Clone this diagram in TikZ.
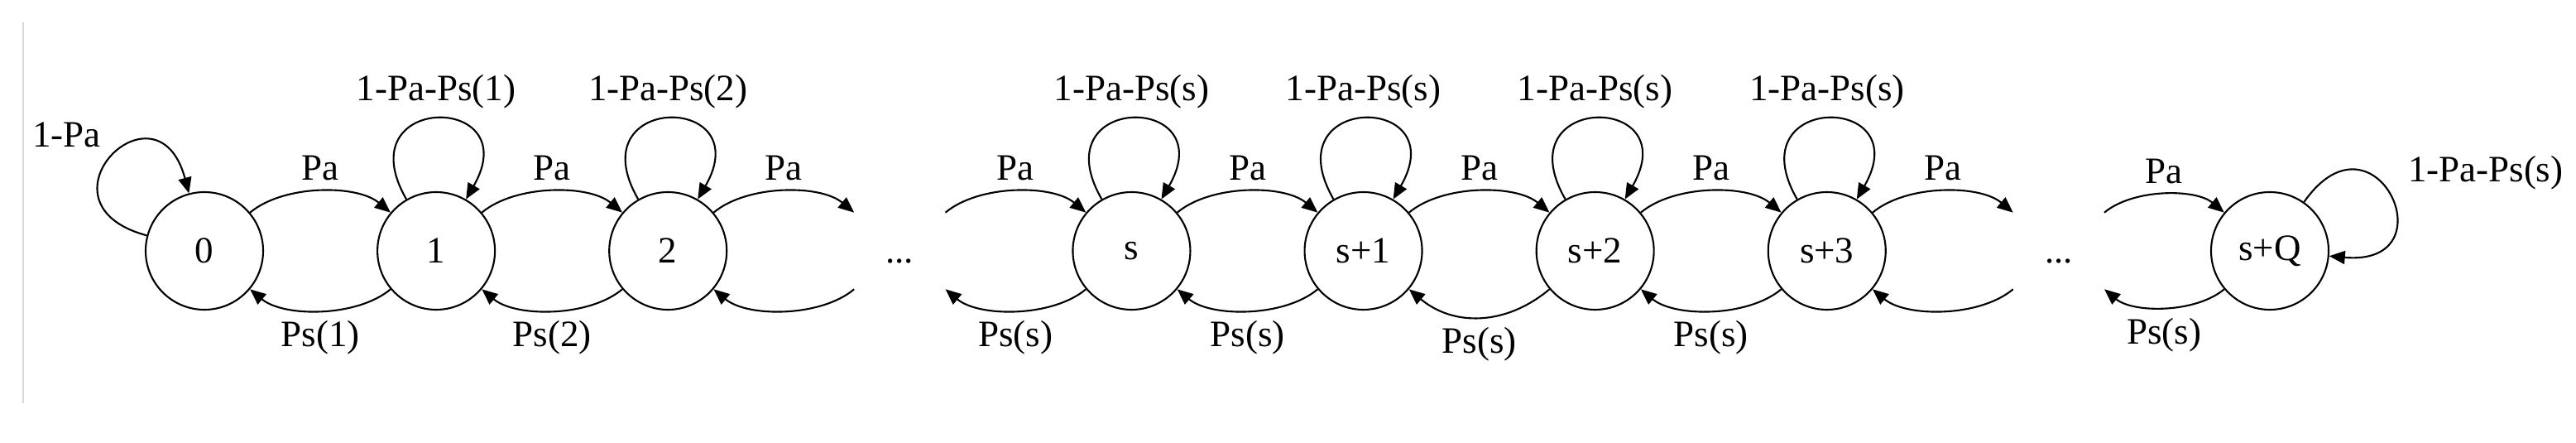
\documentclass[tikz,border=0pt]{standalone}
\usepackage{fontspec}
\setmainfont{Liberation Serif}
\usetikzlibrary{positioning,arrows.meta}

\begin{document}
\begin{tikzpicture}[line width=0.6pt,
                    >={Triangle[length=1.9mm,width=1.6mm]},
                    font=\fontsize{12.8}{15}\selectfont,
                    node distance=13.6mm,
                    state/.style={draw,circle,minimum size=14.2mm,inner sep=0pt},
                    ghost/.style={circle,minimum size=14.2mm,inner sep=0pt},
                    hop/.style={bend left=40,looseness=0.8},
                    selfloop/.style={looseness=1,min distance=14.9mm}]
  \useasboundingbox (-2.47,-2.31) rectangle (28.66,3.03);
  \draw[black!15,line width=0.4pt] (-2.19,2.76) -- (-2.19,-1.84);

  \node[state] (q0) {0};
  \node[state,right=of q0] (q1) {1};
  \node[state,right=of q1] (q2) {2};
  \node[ghost,right=of q2] (dots1) {\vphantom{0}...};
  \node[state,right=of dots1] (qs) {s};
  \node[state,right=of qs] (qs1) {s+1};
  \node[state,right=of qs1] (qs2) {s+2};
  \node[state,right=of qs2] (qs3) {s+3};
  \node[ghost,right=of qs3] (dots2) {\vphantom{0}...};
  \node[state,right=11.1mm of dots2] (qsQ) {s+Q};

  % arrivals
  \draw[->] (q0) to[hop] node[above] {Pa} (q1);
  \draw[->] (q1) to[hop] node[above] {Pa} (q2);
  \draw[->] (q2) to[hop] node[above] {Pa} (dots1);
  \draw[->] (dots1) to[hop] node[above] {Pa} (qs);
  \draw[->] (qs) to[hop] node[above] {Pa} (qs1);
  \draw[->] (qs1) to[hop] node[above] {Pa} (qs2);
  \draw[->] (qs2) to[hop] node[above] {Pa} (qs3);
  \draw[->] (qs3) to[hop] node[above] {Pa} (dots2);
  \draw[->] (dots2) to[hop] node[above] {Pa} (qsQ);

  % services
  \draw[->] (q1) to[hop] node[below] {Ps(1)} (q0);
  \draw[->] (q2) to[hop] node[below] {Ps(2)} (q1);
  \draw[->] (dots1) to[hop] (q2);
  \draw[->] (qs) to[hop] node[below] {Ps(s)} (dots1);
  \draw[->] (qs1) to[hop] node[below] {Ps(s)} (qs);
  \draw[->] (qs2) to[hop,looseness=1.05] node[below] {Ps(s)} (qs1);
  \draw[->] (qs3) to[hop] node[below] {Ps(s)} (qs2);
  \draw[->] (dots2) to[hop] (qs3);
  \draw[->] (qsQ) to[hop] node[below] {Ps(s)} (dots2);

  % stay
  \draw[->] (q0) to[selfloop,out=165,in=105] node[above left] {1-Pa} (q0);
  \draw[->] (q1) to[selfloop,out=120,in=60] node[above] {1-Pa-Ps(1)} (q1);
  \draw[->] (q2) to[selfloop,out=120,in=60] node[above] {1-Pa-Ps(2)} (q2);
  \draw[->] (qs) to[selfloop,out=120,in=60] node[above] {1-Pa-Ps(s)} (qs);
  \draw[->] (qs1) to[selfloop,out=120,in=60] node[above] {1-Pa-Ps(s)} (qs1);
  \draw[->] (qs2) to[selfloop,out=120,in=60] node[above] {1-Pa-Ps(s)} (qs2);
  \draw[->] (qs3) to[selfloop,out=120,in=60] node[above] {1-Pa-Ps(s)} (qs3);
  \draw[->] (qsQ) to[selfloop,out=55,in=-5]
    node[right,xshift=1mm,yshift=2.7mm] {1-Pa-Ps(s)} (qsQ);
\end{tikzpicture}
\end{document}
